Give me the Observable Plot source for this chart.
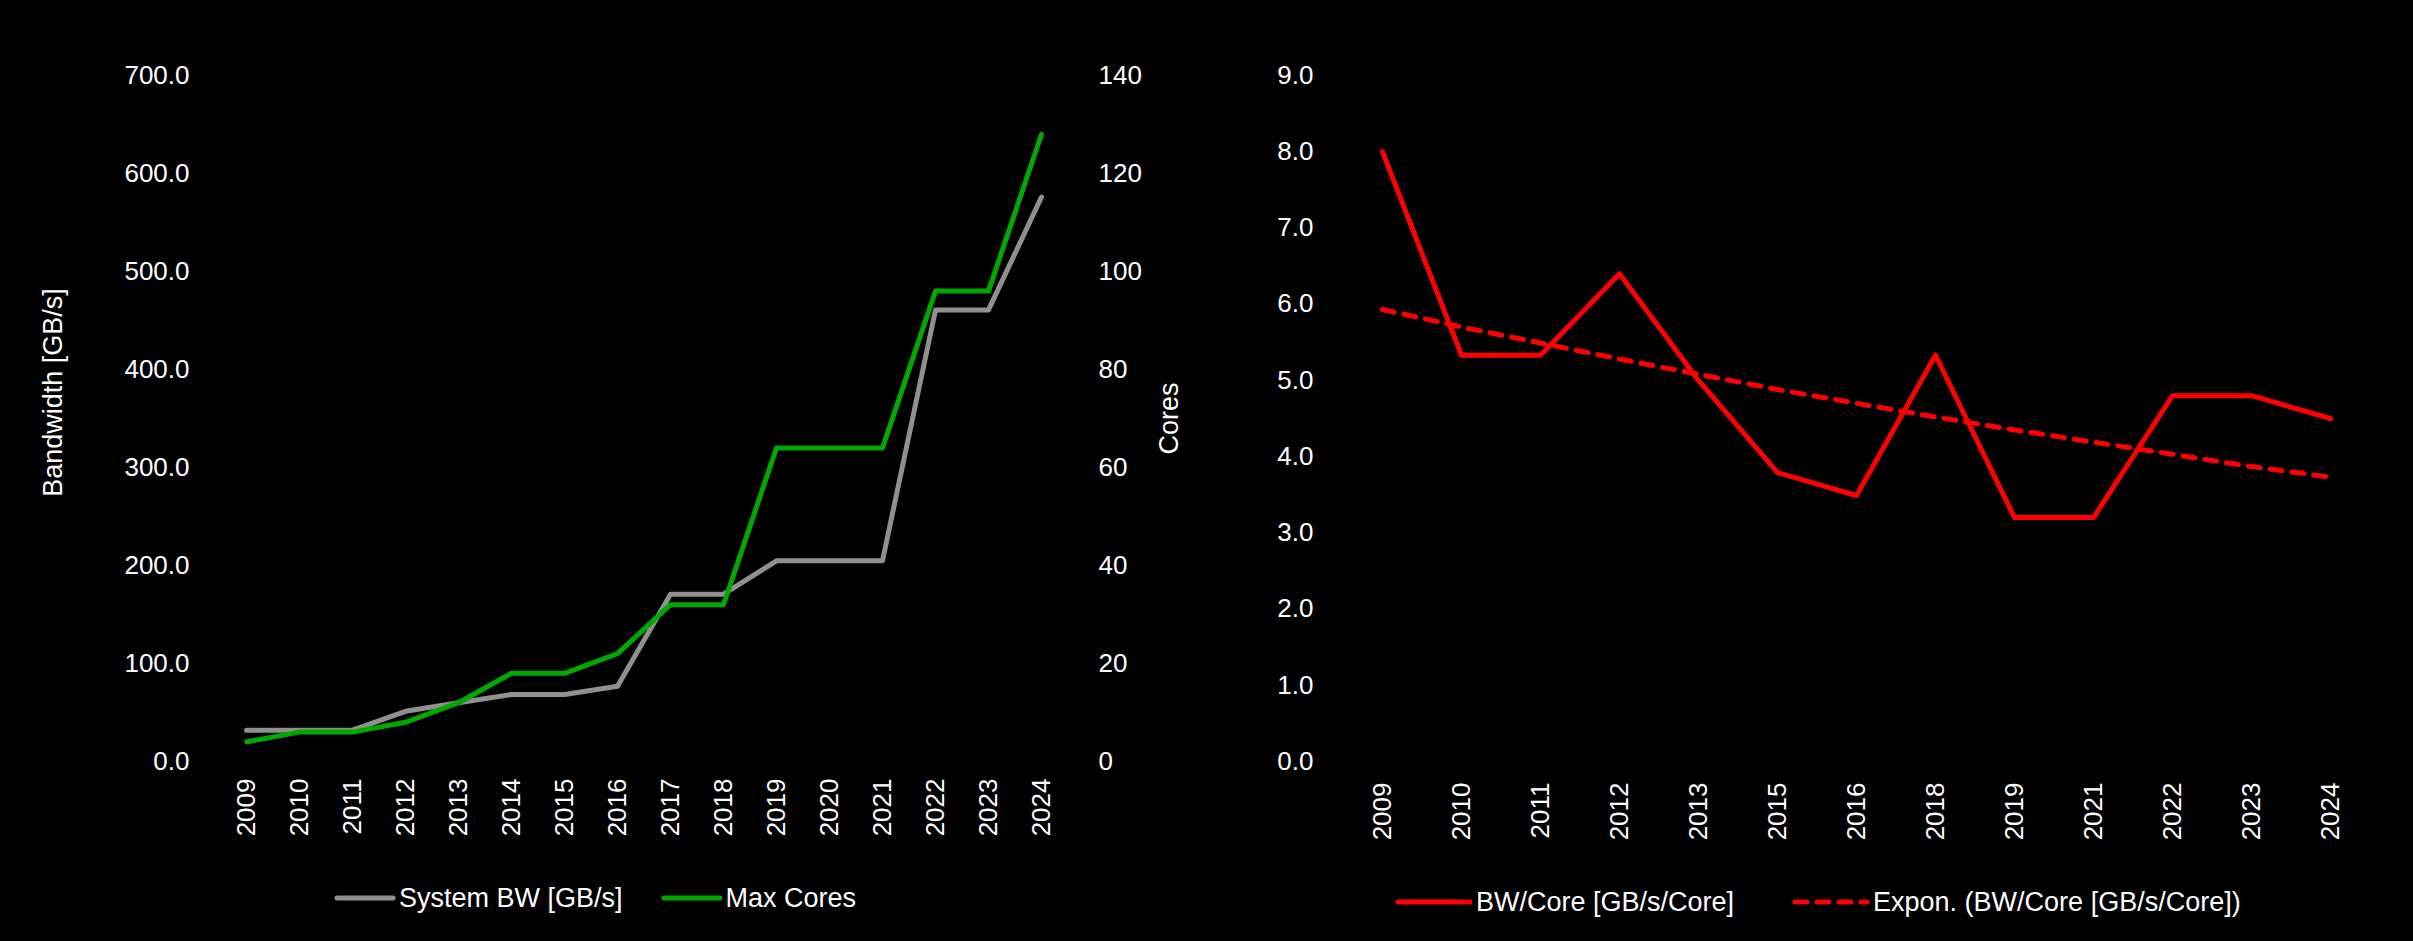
<!DOCTYPE html>
<html><head><meta charset="utf-8">
<script src="https://cdn.jsdelivr.net/npm/d3@7"></script>
<script src="https://cdn.jsdelivr.net/npm/@observablehq/plot@0.6"></script>
<style>
html,body{margin:0;padding:0;background:#000;}
#wrap{position:relative;width:2413px;height:941px;background:#000;overflow:hidden;font-family:"Liberation Sans",Arial,sans-serif;}
#wrap svg{position:absolute;left:0;top:0;}
.legend{position:absolute;display:flex;align-items:center;color:#fff;font-size:27px;white-space:nowrap;line-height:1;}
.legend svg{position:static !important;margin-right:3px;}
.legend .item{display:flex;align-items:center;}
</style></head><body><div id="wrap"></div>
<script>
// ---- Left chart data ----
const years = ["2009","2010","2011","2012","2013","2014","2015","2016","2017","2018","2019","2020","2021","2022","2023","2024"];
const systemBW = [32, 32, 32, 51.2, 60, 68.3, 68.3, 76.8, 170.7, 170.7, 204.8, 204.8, 204.8, 460.8, 460.8, 576];
const maxCores = [4, 6, 6, 8, 12, 18, 18, 22, 32, 32, 64, 64, 64, 96, 96, 128];
const bwTicks = [0, 100, 200, 300, 400, 500, 600, 700];
const coreTicks = [0, 20, 40, 60, 80, 100, 120, 140];

// ---- Right chart data ----
const ratioYears = ["2009","2010","2011","2012","2013","2015","2016","2018","2019","2021","2022","2023","2024"];
const bwPerCore = [8.0, 5.33, 5.33, 6.4, 5.0, 3.79, 3.49, 5.33, 3.2, 3.2, 4.8, 4.8, 4.5];
const bwPerCoreTrend = [5.93, 5.70, 5.49, 5.28, 5.08, 4.88, 4.70, 4.52, 4.35, 4.19, 4.03, 3.87, 3.73];
const ratioTicks = [0, 1, 2, 3, 4, 5, 6, 7, 8, 9];

const seriesNames = ["System BW [GB/s]", "Max Cores", "BW/Core [GB/s/Core]", "Expon. (BW/Core [GB/s/Core])"];
const colors = {bw: "#909090", cores: "#00a800", ratio: "#ff0000"};

const W = 2413, H = 941;
const font = '"Liberation Sans", Arial, sans-serif';
const style = {background: "transparent", color: "#fff", fontFamily: font, fontSize: "26px", overflow: "visible"};

const leftRows = years.map((year, i) => ({year, bw: systemBW[i], cores: maxCores[i]}));
const rightRows = ratioYears.map((year, i) => ({year, ratio: bwPerCore[i], trend: bwPerCoreTrend[i]}));

const plotTop = 75, plotBottom = 761;
const wrap = document.getElementById("wrap");

// Bandwidth (left axis)
const bwPlot = Plot.plot({
  width: W, height: H,
  marginTop: 23, marginBottom: H - plotBottom, marginLeft: 195, marginRight: W - 1090,
  style,
  x: {type: "point", domain: years, range: [241.7, 1045.7], padding: 0},
  y: {domain: [0, 700], range: [plotBottom, plotTop]},
  marks: [
    Plot.axisY({anchor: "left", ticks: bwTicks, tickSize: 0, tickPadding: 6, tickFormat: d => d.toFixed(1), label: null, fill: "#fff"}),
    Plot.axisY({anchor: "left", ticks: [], label: "Bandwidth [GB/s]", labelAnchor: "center", labelOffset: 153, labelArrow: "none", fontSize: 27, fill: "#fff"}),
    Plot.axisX({anchor: "bottom", tickRotate: -90, tickSize: 0, tickPadding: 17, label: null, fill: "#fff"}),
    Plot.lineY(leftRows, {x: "year", y: "bw", stroke: colors.bw, strokeWidth: 5, strokeLinejoin: "round", strokeLinecap: "round"})
  ]
});
wrap.appendChild(bwPlot);

// Cores (right axis)
const coresPlot = Plot.plot({
  width: W, height: H,
  marginTop: plotTop, marginBottom: H - plotBottom, marginLeft: 195, marginRight: W - 1090,
  style,
  x: {type: "point", domain: years, range: [241.7, 1045.7], padding: 0, axis: null},
  y: {domain: [0, 140], range: [plotBottom, plotTop]},
  marks: [
    Plot.axisY({anchor: "right", ticks: coreTicks, tickSize: 0, tickPadding: 8, label: null, fill: "#fff"}),
    Plot.axisY({anchor: "right", ticks: [], label: "Cores", labelAnchor: "center", labelOffset: 87, labelArrow: "none", fontSize: 27, fill: "#fff"}),
    Plot.lineY(leftRows, {x: "year", y: "cores", stroke: colors.cores, strokeWidth: 5, strokeLinejoin: "round", strokeLinecap: "round"})
  ]
});
wrap.appendChild(coresPlot);

// Right chart: BW per core
const ratioPlot = Plot.plot({
  width: W, height: H,
  marginTop: plotTop, marginBottom: H - plotBottom, marginLeft: 1319, marginRight: 63,
  style,
  x: {type: "point", domain: ratioYears, range: [1377, 2335.6], padding: 0},
  y: {domain: [0, 9], range: [plotBottom, plotTop]},
  marks: [
    Plot.axisY({anchor: "left", ticks: ratioTicks, tickSize: 0, tickPadding: 6, tickFormat: d => d.toFixed(1), label: null, fill: "#fff"}),
    Plot.axisX({anchor: "bottom", tickRotate: -90, tickSize: 0, tickPadding: 21, label: null, fill: "#fff"}),
    Plot.lineY(rightRows, {x: "year", y: "ratio", stroke: colors.ratio, strokeWidth: 5, strokeLinejoin: "round", strokeLinecap: "round"}),
    Plot.lineY(rightRows, {x: "year", y: "trend", stroke: colors.ratio, strokeWidth: 5, strokeDasharray: "12,10", strokeLinecap: "round"})
  ]
});
wrap.appendChild(ratioPlot);

// Legends
function swatch(color, dashed, len) {
  const ns = "http://www.w3.org/2000/svg";
  const s = document.createElementNS(ns, "svg");
  s.setAttribute("width", len);
  s.setAttribute("height", 12);
  const l = document.createElementNS(ns, "line");
  l.setAttribute("x1", 3); l.setAttribute("x2", len - 3);
  l.setAttribute("y1", 6); l.setAttribute("y2", 6);
  l.setAttribute("stroke", color); l.setAttribute("stroke-width", 5);
  l.setAttribute("stroke-linecap", "round");
  if (dashed) l.setAttribute("stroke-dasharray", "12,10");
  s.appendChild(l);
  return s;
}
function legend(left, centerY, items, gap, len) {
  const d = document.createElement("div");
  d.className = "legend";
  d.style.left = left + "px";
  d.style.top = (centerY - 14) + "px";
  d.style.height = "28px";
  items.forEach((it, i) => {
    const item = document.createElement("div");
    item.className = "item";
    if (i > 0) item.style.marginLeft = gap + "px";
    item.appendChild(swatch(it.color, it.dashed, len));
    const t = document.createElement("span");
    t.textContent = it.name;
    item.appendChild(t);
    d.appendChild(item);
  });
  wrap.appendChild(d);
}
legend(334, 898, [
  {name: seriesNames[0], color: colors.bw},
  {name: seriesNames[1], color: colors.cores}
], 38, 62);
legend(1395, 902, [
  {name: seriesNames[2], color: colors.ratio},
  {name: seriesNames[3], color: colors.ratio, dashed: true}
], 58, 78);
</script></body></html>
